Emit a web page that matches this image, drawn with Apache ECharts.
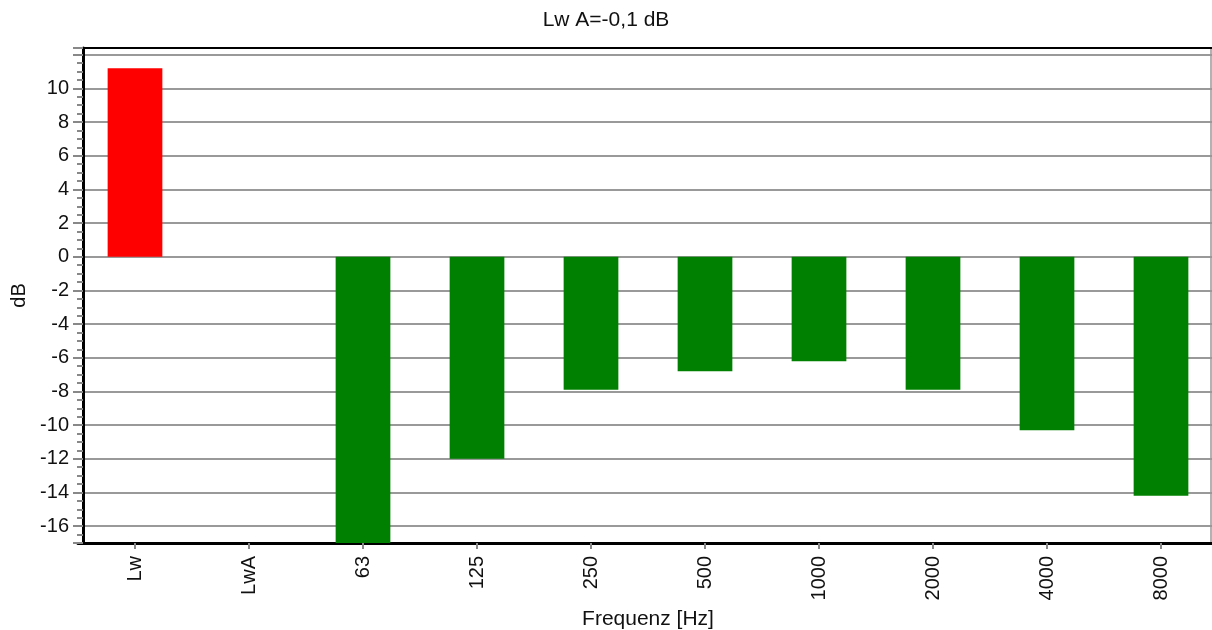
<!DOCTYPE html>
<html>
<head>
<meta charset="utf-8">
<script src="https://cdn.jsdelivr.net/npm/echarts@6/dist/echarts.min.js"></script>
<style>
html,body{margin:0;padding:0;background:#fff;}
#chart{width:1212px;height:630px;}
</style>
</head>
<body>
<div id="chart"></div>
<script>
const titleText = 'Lw A=-0,1 dB';
const categories = ['Lw', 'LwA', '63', '125', '250', '500', '1000', '2000', '4000', '8000'];
const values = [11.2, null, -17.0, -12.0, -7.9, -6.8, -6.2, -7.9, -10.3, -14.2];
const barColors = ['#ff0000', '#008000', '#008000', '#008000', '#008000', '#008000', '#008000', '#008000', '#008000', '#008000'];
const yMin = -17;
const yMax = 12.4;
const yLabelMax = 10;
const xName = 'Frequenz [Hz]';
const yName = 'dB';

const font = "'Liberation Sans', Arial, sans-serif";
const chart = echarts.init(document.getElementById('chart'));
chart.setOption({
  backgroundColor: '#fff',
  animation: false,
  title: {
    text: titleText, left: 'center', top: 5,
    textStyle: {fontFamily: font, fontSize: 21, fontWeight: 'normal', color: '#111'}
  },
  grid: {left: 78, width: 1140, top: 48, height: 495, containLabel: false, outerBoundsMode: 'none'},
  xAxis: [{
    type: 'category', data: categories, position: 'bottom',
    name: xName, nameLocation: 'middle', nameGap: 61,
    nameTextStyle: {fontFamily: font, fontSize: 21, color: '#111'},
    axisLine: {show: true, onZero: false, lineStyle: {color: '#000', width: 3}},
    axisTick: {show: true, alignWithLabel: true, length: 6, lineStyle: {color: '#888', width: 2}},
    axisLabel: {rotate: 90, margin: 13, fontFamily: font, fontSize: 20, color: '#111', interval: 0},
    splitLine: {show: false}
  }, {
    type: 'category', data: categories, position: 'top',
    axisLine: {show: true, onZero: false, lineStyle: {color: '#000', width: 2}},
    axisTick: {show: false}, axisLabel: {show: false}, splitLine: {show: false}
  }],
  yAxis: [{
    type: 'value', min: yMin, max: yMax, splitNumber: 15, offset: -5,
    name: yName, nameLocation: 'middle', nameGap: 52, nameRotate: 90,
    nameTextStyle: {fontFamily: font, fontSize: 20, color: '#111'},
    axisLine: {show: true, onZero: false, lineStyle: {color: '#000', width: 3}},
    axisTick: {show: true, length: 10, lineStyle: {color: '#888', width: 2}},
    minorTick: {show: true, splitNumber: 4, length: 6, lineStyle: {color: '#888', width: 2}},
    axisLabel: {
      margin: 14, fontFamily: font, fontSize: 20, color: '#111',
      showMinLabel: false, showMaxLabel: false,
      formatter: v => (v > yLabelMax ? '' : String(v))
    },
    splitLine: {show: true, lineStyle: {color: '#999', width: 1.8}}
  }, {
    type: 'value', min: yMin, max: yMax, position: 'right', offset: -7,
    axisLine: {show: true, onZero: false, lineStyle: {color: '#999', width: 1.5}},
    axisTick: {show: false}, axisLabel: {show: false}, splitLine: {show: false}
  }],
  series: [{
    type: 'bar', barWidth: '48%',
    data: values.map((v, i) => ({value: v, itemStyle: {color: barColors[i]}}))
  }]
});
</script>
</body>
</html>
